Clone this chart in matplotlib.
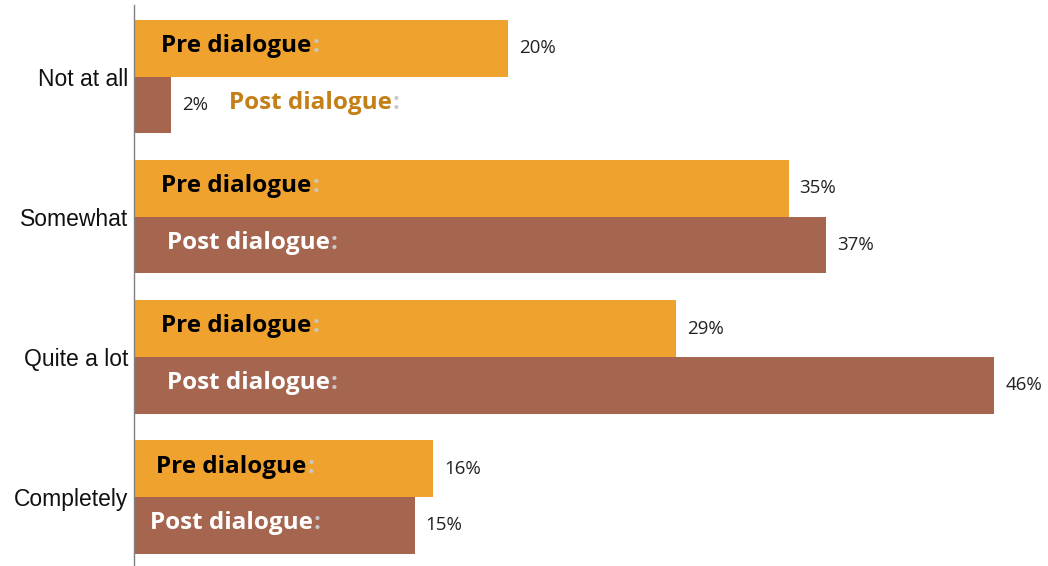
import matplotlib
matplotlib.use("Agg")
import matplotlib.pyplot as plt
from matplotlib.transforms import offset_copy

categories = ["Not at all", "Somewhat", "Quite a lot", "Completely"]
pre_values = [20, 35, 29, 16]
post_values = [2, 37, 46, 15]
pre_label = "Pre dialogue"
post_label = "Post dialogue"

PRE_COLOR = "#F0A22E"
POST_COLOR = "#A5654E"

fig = plt.figure(figsize=(10.48, 5.66), dpi=100)
ax = fig.add_axes([134 / 1048, 0, 1 - 134 / 1048, 1])

px_per_unit = 18.7
ax.set_xlim(0, (1048 - 134) / px_per_unit)
spacing = 140.2
y_bottom = (566 - 76.5) / spacing
y_top = -76.5 / spacing
ax.set_ylim(y_bottom, y_top)

h = 0.405
ys = list(range(len(categories)))
ax.barh([y - h / 2 for y in ys], pre_values, height=h, color=PRE_COLOR, linewidth=0)
ax.barh([y + h / 2 for y in ys], post_values, height=h, color=POST_COLOR, linewidth=0)

for s in ["top", "right", "bottom"]:
    ax.spines[s].set_visible(False)
ax.spines["left"].set_color("#808080")
ax.spines["left"].set_linewidth(1.0)
ax.spines["left"].set_bounds(y_bottom, (5 - 76.5) / spacing)
ax.set_xticks([])
ax.set_yticks(ys)
ax.set_yticklabels(categories, fontfamily="Liberation Sans", fontsize=16.5, color="#111111")
ax.tick_params(axis="y", length=0, pad=4)

fig.canvas.draw()
renderer = fig.canvas.get_renderer()

def label_with_colon(x_px, y, text, color, size=17.5):
    tr = offset_copy(ax.transData, fig=fig, x=x_px, y=0, units="dots")
    t = ax.text(0, y, text, transform=tr, fontfamily="Open Sans", fontweight="bold",
                fontsize=size, color=color, ha="left", va="center")
    bb = t.get_window_extent(renderer=renderer)
    dx = bb.x1 - ax.transData.transform((0, 0))[0] + 1
    tr2 = offset_copy(ax.transData, fig=fig, x=dx, y=0, units="dots")
    ax.text(0, y, ":", transform=tr2, fontfamily="Open Sans", fontweight="bold",
            fontsize=size, color="#C8C8C8", ha="left", va="center")

pre_offsets = [27, 27, 27, 22]
post_offsets = [95, 33, 33, 16]
for i, y in enumerate(ys):
    label_with_colon(pre_offsets[i], y - h / 2 - 0.015, pre_label, "#000000")
    pc = "#C47F17" if post_values[i] < 5 else "#FFFFFF"
    label_with_colon(post_offsets[i], y + h / 2 - 0.015, post_label, pc)

for i, y in enumerate(ys):
    ax.annotate(f"{pre_values[i]}%", xy=(pre_values[i], y - h / 2), xytext=(11, 0),
                textcoords="offset pixels", ha="left", va="center",
                fontfamily="Open Sans", fontsize=13.5, color="#222222")
    ax.annotate(f"{post_values[i]}%", xy=(post_values[i], y + h / 2), xytext=(11, 0),
                textcoords="offset pixels", ha="left", va="center",
                fontfamily="Open Sans", fontsize=13.5, color="#222222")

fig.savefig("out.png", dpi=100)
